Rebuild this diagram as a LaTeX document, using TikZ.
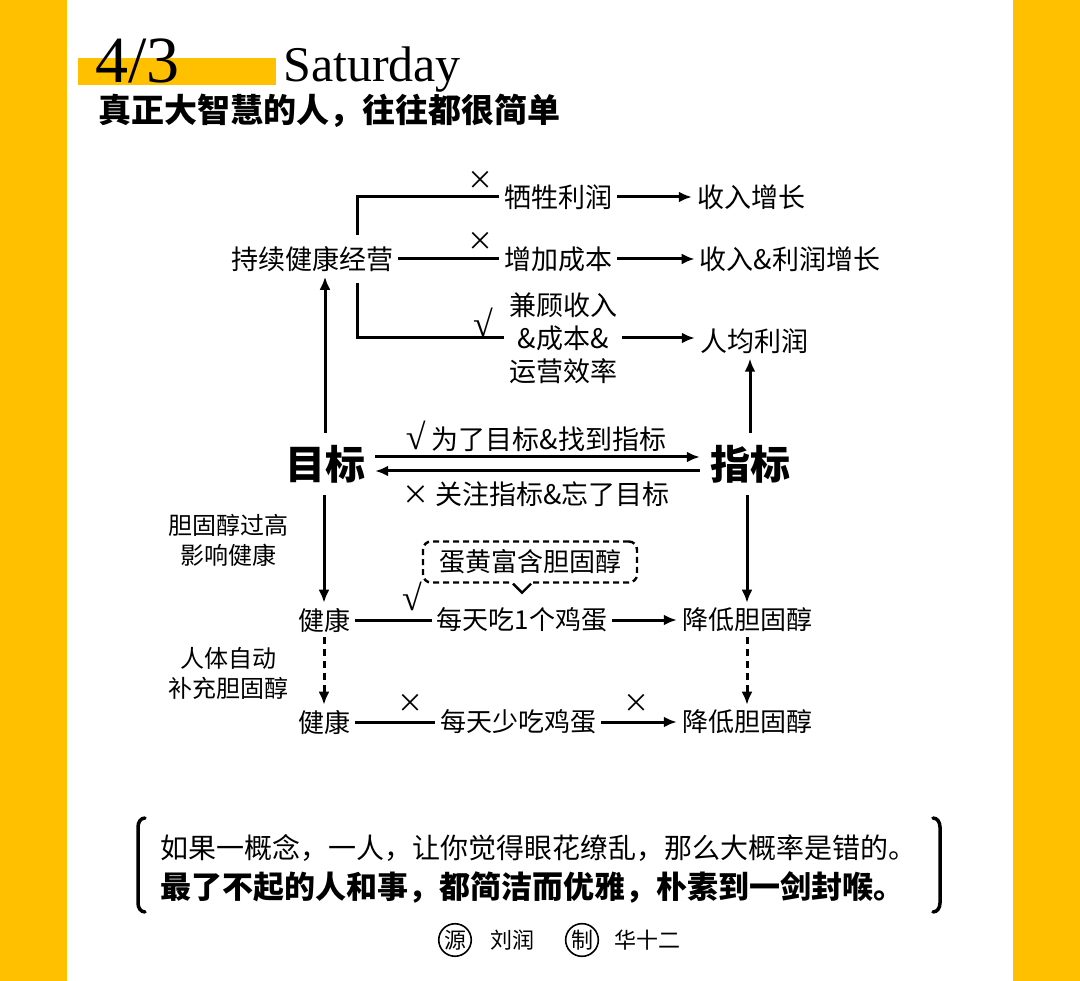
\documentclass[tikz,border=0pt]{standalone}
\usepackage{fontspec}
\setmainfont{Noto Sans CJK SC}
\newfontfamily\datefont{Liberation Serif}
\usetikzlibrary{arrows.meta}
\definecolor{bgyellow}{HTML}{FFC000}
\newcommand{\yes}{{\datefont\fontsize{36}{36}\selectfont √}}

\begin{document}
\begin{tikzpicture}[x=1pt, y=-1pt, >={Latex[length=13pt,width=11pt]},
    txt/.style={inner sep=5pt, font=\fontsize{27}{33}\selectfont},
    low/.style={inner sep=5pt, font=\fontsize{26}{32}\selectfont},
    judge/.style={inner sep=0pt, font=\fontsize{26}{30}\selectfont},
    big/.style={inner xsep=10pt, inner ysep=12pt, font=\fontsize{40}{44}\selectfont\bfseries},
    note/.style={inner sep=0pt, align=center, font=\fontsize{24}{30}\selectfont},
    conn/.style={line width=3pt}]
    \useasboundingbox (0,0) rectangle (1080,981);

    % 背景
    \fill[bgyellow] (0,0) rectangle (67,981);
    \fill[bgyellow] (1013,0) rectangle (1080,981);

    % 标题
    \fill[bgyellow] (78,58) rectangle (276,85);
    \node[anchor=base west, inner sep=0, font=\datefont\fontsize{66}{70}\selectfont] (date) at (95,83) {4/3};
    \node[anchor=base west, inner sep=0, font=\datefont\fontsize{50}{56}\selectfont] (day) at (283,82) {Saturday};
    \node[anchor=west, inner sep=0, font=\fontsize{33}{38}\selectfont\bfseries] (title) at (98,111) {真正大智慧的人，往往都很简单};

    % 定义节点
    \node[txt] (jy) at (312,259) {持续健康经营};
    \node[txt] (xs) at (558,197) {牺牲利润};
    \node[txt] (sr) at (751,197) {收入增长};
    \node[txt] (zj) at (558,259) {增加成本};
    \node[txt] (lr) at (790,259) {收入\&利润增长};
    \node[txt, align=center] (jg) at (563,338) {兼顾收入\\\&成本\&\\运营效率};
    \node[txt] (rj) at (754,341) {人均利润};
    \node[judge] (x1) at (480,180) {×};
    \node[judge] (x2) at (480,241) {×};
    \node[judge] (v1) at (483,322) {\yes};

    \node[big] (mb) at (325,464) {目标};
    \node[big] (zb) at (750,464) {指标};
    \node[txt] (l1) at (536,436) {\yes\ 为了目标\&找到指标};
    \node[txt] (l2) at (536,494) {× 关注指标\&忘了目标};

    \node[note] (gg) at (228,540) {胆固醇过高\\影响健康};
    \node[low] (h1) at (324,620) {健康};
    \node[low] (e1) at (522,620) {每天吃1个鸡蛋};
    \node[low] (d1) at (747,620) {降低胆固醇};
    \node[judge] (v2) at (412,596) {\yes};
    \node[note] (bc) at (228,673) {人体自动\\补充胆固醇};
    \node[low] (h2) at (324,722) {健康};
    \node[low] (e2) at (518,722) {每天少吃鸡蛋};
    \node[low] (d2) at (747,722) {降低胆固醇};
    \node[judge] (x3) at (410,703) {×};
    \node[judge] (x4) at (636,703) {×};

    % 气泡
    \node[draw, line width=2.4pt, dash pattern=on 6pt off 4pt, rounded corners=8pt,
        minimum width=214pt, minimum height=41pt, inner sep=0,
        font=\fontsize{26}{30}\selectfont] (egg) at (530,562) {蛋黄富含胆固醇};
    \fill[white] ([xshift=-17pt,yshift=3pt]egg.south) rectangle ([xshift=1pt,yshift=-3pt]egg.south);
    \draw[line width=2.4pt] ([xshift=-17pt]egg.south) -- ++(9,9) -- ++(9,-9);

    % 绘制主要箭头
    \draw[conn] ([xshift=45pt,yshift=6pt]jy.north) |- (xs.west);
    \draw[conn] (jy.east) -- (zj.west);
    \draw[conn] ([xshift=45pt,yshift=-6pt]jy.south) |- (jg.west);
    \draw[conn, ->] (xs.east) -- (sr.west);
    \draw[conn, ->] (zj.east) -- (lr.west);
    \draw[conn, ->] (jg.east) -- (jg.east -| rj.west);

    \draw[conn, ->] (mb.north) -- (mb.north |- jy.south);
    \draw[conn, ->] (zb.north) -- (zb.north |- rj.south);
    \draw[conn, ->] ([yshift=7pt]mb.east) -- ([yshift=7pt]zb.west);
    \draw[conn, ->] ([yshift=-7pt]zb.west) -- ([yshift=-7pt]mb.east);

    \draw[conn, ->] (mb.south -| h1.north) -- (h1.north);
    \draw[conn, ->] (zb.south -| d1.north) -- (d1.north);
    \draw[conn] (h1.east) -- (e1.west);
    \draw[conn, ->] (e1.east) -- (d1.west);
    \draw[conn, ->, dash pattern=on 7pt off 5pt] (h1.south) -- (h2.north);
    \draw[conn, ->, dash pattern=on 7pt off 5pt] (d1.south) -- (d2.north);
    \draw[conn] (h2.east) -- (e2.west);
    \draw[conn, ->] (e2.east) -- (d2.west);

    % 引文
    \node[anchor=west, inner sep=0, font=\fontsize{28}{32}\selectfont] (q1) at (160,848) {如果一概念，一人，让你觉得眼花缭乱，那么大概率是错的。};
    \node[anchor=west, inner sep=0, font=\fontsize{31}{36}\selectfont\bfseries] (q2) at (160,887) {最了不起的人和事，都简洁而优雅，朴素到一剑封喉。};
    \draw[line width=3.5pt, line cap=round] (145,818) to[out=180,in=90] (138,827) -- (138,903) to[out=-90,in=180] (145,912);
    \draw[line width=3.5pt, line cap=round] (933,818) to[out=0,in=90] (940,827) -- (940,903) to[out=-90,in=0] (933,912);

    % 署名
    \node[circle, draw, line width=1.6pt, inner sep=1pt, font=\fontsize{22}{24}\selectfont] (src) at (455,940) {源};
    \node[inner sep=0, font=\fontsize{22}{24}\selectfont] (author) at (512,940) {刘润};
    \node[circle, draw, line width=1.6pt, inner sep=1pt, font=\fontsize{22}{24}\selectfont] (mk) at (582,940) {制};
    \node[inner sep=0, font=\fontsize{22}{24}\selectfont] (maker) at (647,940) {华十二};
\end{tikzpicture}
\end{document}
